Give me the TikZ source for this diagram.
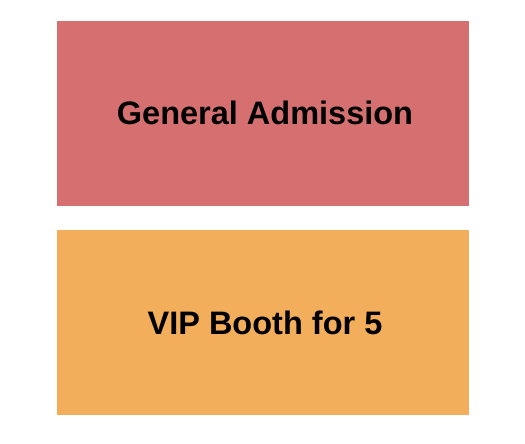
\documentclass[tikz,border=0pt]{standalone}
\usepackage{fontspec}
\setmainfont{Liberation Sans}
\definecolor{gared}{HTML}{D67070}
\definecolor{viporange}{HTML}{F2AE5A}
\tikzset{
  section/.style={inner sep=0pt, minimum width=412pt, minimum height=185pt,
    font=\fontsize{32.5}{38}\selectfont\bfseries, text=black,
    execute at begin node=\hspace*{4pt}},
}
\begin{document}
\begin{tikzpicture}[x=1pt,y=-1pt]
% page frame
\useasboundingbox (0,0) rectangle (525,444);
% sections
\node[section, fill=gared] (ga) at (263,113.2) {General Admission};
\node[section, fill=viporange] (vip) at (263,322.8) {VIP Booth for 5};
\end{tikzpicture}
\end{document}
